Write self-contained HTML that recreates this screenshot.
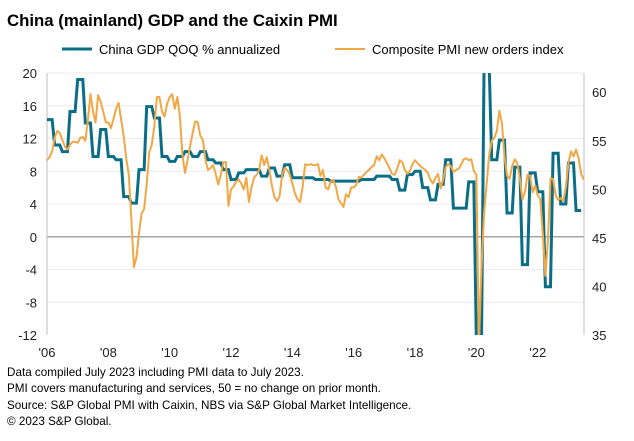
<!DOCTYPE html>
<html><head><meta charset="utf-8">
<style>
html,body{margin:0;padding:0;background:#fff;width:634px;height:441px;overflow:hidden;font-family:"Liberation Sans",Arial,sans-serif;}
svg{display:block;}
svg text{font-family:"Liberation Sans",Arial,sans-serif;}
</style></head>
<body>
<svg id="chart" width="634" height="441" viewBox="0 0 634 441">
<text x="7" y="26" font-size="16.8" font-weight="bold" fill="#000">China (mainland) GDP and the Caixin PMI</text>
<g>
<line x1="62" y1="49" x2="92" y2="49" stroke="#0b6e87" stroke-width="3"/>
<text x="99" y="54" font-size="13" fill="#000">China GDP QOQ % annualized</text>
<line x1="335" y1="49" x2="365" y2="49" stroke="#f2a745" stroke-width="2"/>
<text x="372" y="54" font-size="13" fill="#000">Composite PMI new orders index</text>
</g>
<g id="grid"></g>
<g id="axes"></g>
<defs><clipPath id="plotclip"><rect x="47" y="73" width="537" height="262"/></clipPath></defs>
<g id="series" clip-path="url(#plotclip)"></g>
<g font-size="11.7" fill="#000">
<text x="7" y="376">Data compiled July 2023 including PMI data to July 2023.</text>
<text x="7" y="392">PMI covers manufacturing and services, 50 = no change on prior month.</text>
<text x="7" y="409">Source: S&amp;P Global PMI with Caixin, NBS via S&amp;P Global Market Intelligence.</text>
<text x="7" y="425">© 2023 S&amp;P Global.</text>
</g>
</svg>
<script>
const leftTicks=[20,16,12,8,4,0,-4,-8,-12];
const rightTicks=[60,55,50,45,40,35];
const yearTicks=["'06","'08","'10","'12","'14","'16","'18","'20","'22"];
const yearTickValues=[2006,2008,2010,2012,2014,2016,2018,2020,2022];
const gdpStartYear=2006;
const gdpQuarterly=[14.3,11.2,10.4,15.3, 19.2,13.9,9.8,13.1, 9.8,9.4,4.9,4.1, 8.2,15.9,14.5,9.8,
 9.2,9.8,10.4,9.8, 10.4,9.4,9.0,8.2, 7.0,7.8,8.2,8.2, 7.4,8.4,7.4,8.8,
 7.2,7.2,7.2,7.0, 7.0,6.8,6.8,6.8, 6.8,7.0,7.0,7.4, 7.4,7.0,5.7,7.6,
 8.0,6.0,4.5,6.4, 9.4,3.5,3.5,6.7, -35,50,9.4,11.8, 2.9,8.5,-3.4,7.8,
 5.5,-6.1,10.2,4.0, 9.0,3.2];
const pmiMonthly=[
 53.0,53.3,53.9,55.3,56.0,55.8,55.1,54.4,54.1,54.6,54.9,54.9,
 54.8,55.3,55.4,55.0,57.1,59.8,58.0,56.9,59.7,59.0,58.0,56.9,
 56.9,56.3,57.2,58.3,58.9,57.2,55.5,53.2,51.5,47.0,42.0,43.0,
 45.5,47.5,48.0,50.5,53.8,54.6,56.5,59.5,59.5,58.0,57.5,58.8,
 59.5,59.8,58.3,59.5,57.5,53.5,51.7,53.0,54.5,55.8,57.0,56.9,
 55.5,55.1,53.0,52.0,52.2,52.5,51.6,50.5,51.5,52.8,52.8,48.3,
 50.0,50.3,50.8,51.0,50.6,50.0,51.2,48.7,50.2,51.2,51.5,52.0,
 53.5,52.5,53.3,52.0,50.4,49.2,48.8,49.3,51.5,52.2,52.0,51.5,
 50.6,49.6,49.0,48.7,50.2,52.6,52.5,52.6,52.5,52.5,52.6,51.4,
 52.0,50.2,50.0,50.8,51.0,50.3,49.0,48.6,48.2,49.5,49.2,50.2,
 50.2,50.5,51.3,51.2,51.5,51.8,52.0,52.3,52.5,53.4,53.0,53.6,
 53.2,52.7,52.2,51.6,51.5,52.1,53.0,52.8,52.0,51.6,51.9,52.6,
 53.0,52.7,52.4,52.2,52.0,51.7,51.0,50.6,51.2,51.6,50.1,51.0,
 52.3,52.6,52.4,51.8,52.0,52.1,52.5,53.1,53.2,53.0,53.1,51.9,
 51.5,30.0,42.0,47.5,50.5,53.5,55.0,55.3,56.0,58.1,56.8,53.4,
 51.4,51.1,52.4,53.1,52.7,51.1,49.0,49.7,51.5,51.4,49.7,50.4,
 49.4,49.0,45.4,41.1,44.8,51.1,51.1,49.4,48.9,49.1,48.8,50.2,
 52.7,53.9,53.4,54.1,53.2,51.6,51.0];

const X0=47, PX_PER_YEAR=30.67;
function xYear(t){return X0+(t-2006)*PX_PER_YEAR;}
function clampY(y){return Math.max(65,Math.min(343,y));}
function yLeft(v){return 335-(v+12)*(262/32);}
function yRight(v){return 238-(v-45)*9.72;}
const NS="http://www.w3.org/2000/svg";
function mk(tag,attrs,parent){const e=document.createElementNS(NS,tag);for(const k in attrs)e.setAttribute(k,attrs[k]);parent.appendChild(e);return e;}
const grid=document.getElementById('grid'), axes=document.getElementById('axes'), series=document.getElementById('series');

leftTicks.forEach(v=>{
  const y=yLeft(v);
  if(v!==-12){
    const l=mk('line',{x1:47,x2:584,y1:y,y2:y,stroke:v===0?'#a6a6a6':'#ececec','stroke-width':v===0?1.5:1},grid);
    
    
  }
  const t=mk('text',{x:37,y:y+5,'text-anchor':'end','font-size':13,fill:'#222'},axes);
  t.textContent=v;
  
  
});
rightTicks.forEach(v=>{
  const t=mk('text',{x:592,y:yRight(v)+5,'font-size':13,fill:'#222'},axes);
  t.textContent=v;
  
  
});
yearTicks.forEach((lab,i)=>{
  const t=mk('text',{x:xYear(yearTickValues[i]),y:357,'text-anchor':'middle','font-size':13,fill:'#222'},axes);
  t.textContent=lab;
  
  
});
const la=mk('line',{x1:47,x2:47,y1:73,y2:335,stroke:'#bfbfbf','stroke-width':1},axes);


const ra=mk('line',{x1:584,x2:584,y1:73,y2:335,stroke:'#bfbfbf','stroke-width':1},axes);



let gp=[];
gdpQuarterly.forEach((v,q)=>{
  for(let m=0;m<3;m++){
    const t=gdpStartYear+(q*3+m)/12;
    gp.push(xYear(t).toFixed(2)+','+clampY(yLeft(v)).toFixed(2));
  }
});
const gl=mk('polyline',{points:gp.join(' '),fill:'none',stroke:'#0b6e87','stroke-width':3,'stroke-linejoin':'miter'},series);



const pp=pmiMonthly.map((v,i)=>xYear(2006+i/12).toFixed(2)+','+clampY(yRight(v)).toFixed(2));
const pl=mk('polyline',{points:pp.join(' '),fill:'none',stroke:'#f2a745','stroke-width':2,'stroke-linejoin':'round'},series);


</script>
</body></html>
